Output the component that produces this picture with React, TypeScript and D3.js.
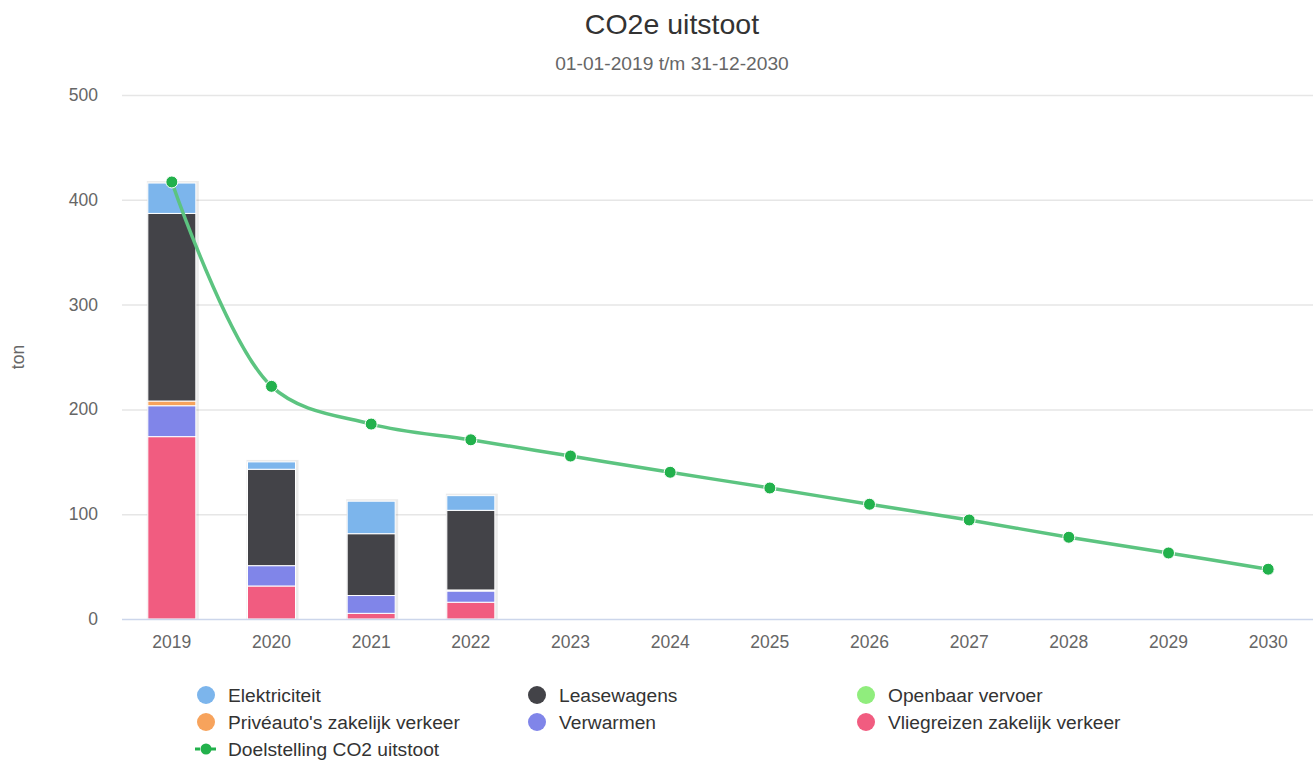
import { useEffect, useRef } from "react"
import * as d3 from "d3"

const years = ["2019", "2020", "2021", "2022", "2023", "2024", "2025", "2026", "2027", "2028", "2029", "2030"]

// stacked series, legend order (first is drawn on top)
const elektriciteit = [29, 7, 31, 14, 0, 0, 0, 0, 0, 0, 0, 0]
const leasewagens = [179, 92, 59, 76, 0, 0, 0, 0, 0, 0, 0, 0]
const openbaarVervoer = [0, 0, 0, 0, 0, 0, 0, 0, 0, 0, 0, 0]
const priveauto = [4.5, 0, 0, 1, 0, 0, 0, 0, 0, 0, 0, 0]
const verwarmen = [29.5, 19.4, 17, 10.7, 0, 0, 0, 0, 0, 0, 0, 0]
const vliegreizen = [174, 31.5, 5.4, 16, 0, 0, 0, 0, 0, 0, 0, 0]

const doelstelling = [417, 222, 186, 171, 155.5, 140, 125, 109.5, 94.5, 78, 63, 47.5]

const yTicks = [0, 100, 200, 300, 400, 500]

const seriesNames = [
  "Elektriciteit",
  "Leasewagens",
  "Openbaar vervoer",
  "Privéauto's zakelijk verkeer",
  "Verwarmen",
  "Vliegreizen zakelijk verkeer",
]
const seriesValues = [elektriciteit, leasewagens, openbaarVervoer, priveauto, verwarmen, vliegreizen]
const seriesColors = ["#7cb5ec", "#434348", "#90ed7d", "#f7a35c", "#8085e9", "#f15c80"]

export default function App() {
  const svgRef = useRef<SVGSVGElement>(null)

  useEffect(() => {
    document.body.style.margin = "0"
    if (!svgRef.current) return
    const svg = d3.select(svgRef.current)
    svg.selectAll("*").remove()

    const width = 1313
    const height = 760
    const font = "'Liberation Sans', Arial, sans-serif"
    svg.attr("width", width).attr("height", height).style("font-family", font)

    const left = 122
    const right = 1318
    const top = 95
    const bottom = 619

    const x = d3.scaleBand<string>().domain(years).range([left, right])
    const y = d3.scaleLinear().domain([0, 500]).range([bottom, top])

    // title
    svg.append("text")
      .attr("x", 672).attr("y", 34)
      .attr("text-anchor", "middle")
      .style("font-size", "28.5px")
      .style("fill", "#333333")
      .text("CO2e uitstoot")

    svg.append("text")
      .attr("x", 672).attr("y", 70)
      .attr("text-anchor", "middle")
      .style("font-size", "19.2px")
      .style("fill", "#666666")
      .text("01-01-2019 t/m 31-12-2030")

    // grid
    svg.append("g")
      .selectAll("line")
      .data(yTicks.filter((t) => t > 0))
      .enter()
      .append("line")
      .attr("x1", left).attr("x2", right)
      .attr("y1", (d) => y(d) + 0.5).attr("y2", (d) => y(d) + 0.5)
      .attr("stroke", "#e6e6e6")
      .attr("stroke-width", 1.5)

    svg.append("g")
      .selectAll("text")
      .data(yTicks)
      .enter()
      .append("text")
      .attr("x", 98)
      .attr("y", (d) => y(d) + 6)
      .attr("text-anchor", "end")
      .style("font-size", "17.5px")
      .style("fill", "#666666")
      .text((d) => d)

    svg.append("text")
      .attr("transform", `translate(24, ${(top + bottom) / 2}) rotate(-90)`)
      .attr("text-anchor", "middle")
      .style("font-size", "17.5px")
      .style("fill", "#666666")
      .text("ton")

    // stacked bars
    const barWidth = 48
    const stackData = years.map((yr, i) => {
      const row: Record<string, number | string> = { year: yr }
      seriesNames.forEach((n, j) => (row[n] = seriesValues[j][i]))
      return row
    })
    const stackOrder = seriesNames.slice().reverse()
    const stack = d3.stack<Record<string, number | string>>().keys(stackOrder)
    const layers = stack(stackData)

    // shadow behind each column
    const totals = years.map((_, i) => seriesValues.reduce((s, arr) => s + arr[i], 0))
    svg.append("g")
      .selectAll("rect")
      .data(years.filter((_, i) => totals[i] > 0))
      .enter()
      .append("rect")
      .attr("x", (d) => x(d)! + x.bandwidth() / 2 - barWidth / 2 - 1)
      .attr("y", (d) => y(totals[years.indexOf(d)]) - 2)
      .attr("width", barWidth + 4)
      .attr("height", (d) => bottom - y(totals[years.indexOf(d)]) + 2)
      .attr("fill", "#000")
      .attr("opacity", 0.08)

    layers.forEach((layer) => {
      const color = seriesColors[seriesNames.indexOf(layer.key)]
      svg.append("g")
        .selectAll("rect")
        .data(layer.filter((d) => d[1] - d[0] > 0))
        .enter()
        .append("rect")
        .attr("x", (d) => x(d.data.year as string)! + x.bandwidth() / 2 - barWidth / 2)
        .attr("y", (d) => y(d[1]))
        .attr("width", barWidth)
        .attr("height", (d) => y(d[0]) - y(d[1]))
        .attr("fill", color)
        .attr("stroke", "#ffffff")
        .attr("stroke-width", 1)
    })

    // x axis
    svg.append("line")
      .attr("x1", left).attr("x2", right)
      .attr("y1", bottom + 0.5).attr("y2", bottom + 0.5)
      .attr("stroke", "#ccd6eb")
      .attr("stroke-width", 1.5)

    svg.append("g")
      .selectAll("text")
      .data(years)
      .enter()
      .append("text")
      .attr("x", (d) => x(d)! + x.bandwidth() / 2)
      .attr("y", 648)
      .attr("text-anchor", "middle")
      .style("font-size", "17.5px")
      .style("fill", "#666666")
      .text((d) => d)

    // target line
    const line = d3.line<number>()
      .x((_, i) => x(years[i])! + x.bandwidth() / 2)
      .y((d) => y(d))
      .curve(d3.curveCatmullRom.alpha(0.5))

    svg.append("path")
      .datum(doelstelling)
      .attr("d", line)
      .attr("fill", "none")
      .attr("stroke", "#5cc480")
      .attr("stroke-width", 3.5)

    svg.append("g")
      .selectAll("circle")
      .data(doelstelling)
      .enter()
      .append("circle")
      .attr("cx", (_, i) => x(years[i])! + x.bandwidth() / 2)
      .attr("cy", (d) => y(d))
      .attr("r", 6)
      .attr("fill", "#22b14c")
      .attr("stroke", "#ffffff")
      .attr("stroke-width", 1)

    // legend
    const colX = [206, 537, 866]
    const rowY = [695, 722, 749]
    const legend = svg.append("g")
    seriesNames.forEach((name, i) => {
      const cx = colX[i % 3]
      const cy = rowY[Math.floor(i / 3)]
      legend.append("circle")
        .attr("cx", cx).attr("cy", cy).attr("r", 9)
        .attr("fill", seriesColors[i])
      legend.append("text")
        .attr("x", cx + 22).attr("y", cy + 7)
        .style("font-size", "19.2px")
        .style("fill", "#333333")
        .text(name)
    })
    legend.append("line")
      .attr("x1", 195).attr("x2", 218)
      .attr("y1", rowY[2]).attr("y2", rowY[2])
      .attr("stroke", "#22b14c")
      .attr("stroke-width", 3)
      .attr("stroke-dasharray", "5,3")
    legend.append("circle")
      .attr("cx", 206).attr("cy", rowY[2]).attr("r", 5.5)
      .attr("fill", "#22b14c")
    legend.append("text")
      .attr("x", 228).attr("y", rowY[2] + 7)
      .style("font-size", "19.2px")
      .style("fill", "#333333")
      .text("Doelstelling CO2 uitstoot")
  }, [])

  return <svg ref={svgRef} style={{ display: "block" }}></svg>
}
